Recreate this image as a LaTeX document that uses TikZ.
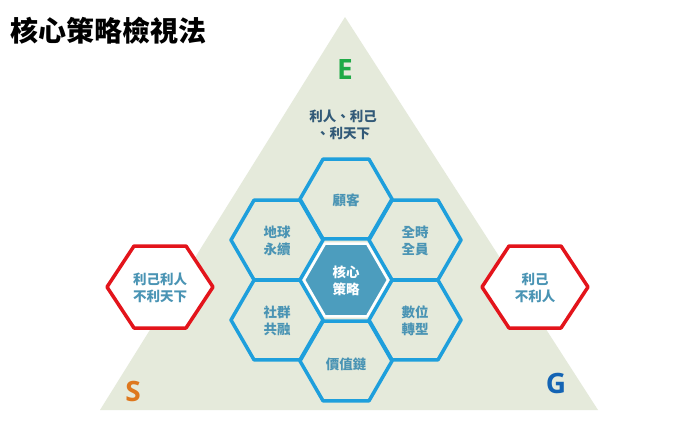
\documentclass[tikz,border=0pt]{standalone}
\usepackage{fontspec}
\newfontfamily\cjk{Noto Sans CJK TC}
\newfontfamily\lat{Open Sans}
\definecolor{bg}{HTML}{E5EADB}
\definecolor{hexb}{HTML}{1E9FDC}
\definecolor{hexc}{HTML}{4C9DBE}
\definecolor{txt}{HTML}{4A94B4}
\definecolor{redh}{HTML}{E3141B}
\begin{document}
\begin{tikzpicture}[x=1pt,y=-1pt,
  hx/.style={draw=hexb,line width=3.5pt,line join=round},
  rh/.style={draw=redh,fill=white,line width=3.5pt,line join=round},
  lbl/.style={font=\cjk\bfseries\fontsize{13.5}{17}\selectfont,text=txt,align=center}]
\useasboundingbox (0,0) rectangle (692,429);
\fill[white] (0,0) rectangle (692,429);
\coordinate (ap) at (345,17);
\coordinate (bl) at (100,410);
\coordinate (br) at (598,410);
\fill[bg] (ap) -- (bl) -- (br) -- cycle;
\node[anchor=west,font=\cjk\bfseries\fontsize{28}{30}\selectfont,inner sep=0pt] (title) at (10,31) {核心策略檢視法};
\node[font=\lat\bfseries\fontsize{28}{30}\selectfont,text={rgb,255:red,30;green,170;blue,70}] (E) at (345,70) {E};
\node[font=\lat\bfseries\fontsize{28}{30}\selectfont,text={rgb,255:red,222;green,120;blue,30}] (S) at (133,391) {S};
\node[font=\lat\bfseries\fontsize{28}{30}\selectfont,text={rgb,255:red,20;green,100;blue,180}] (G) at (556,383) {G};
\node[font=\cjk\bfseries\fontsize{13.5}{17}\selectfont,text={rgb,255:red,50;green,90;blue,120},align=center] (top) at (343,125) {利人、利己\\、利天下};
% honeycomb
\foreach \n/\cx/\cy in {a/346/199, b/415/240, c/415/320, d/346/361, e/277/320, f/277/240}{
  \draw[hx] (\cx+46,\cy) -- (\cx+23,\cy+39.8) -- (\cx-23,\cy+39.8) -- (\cx-46,\cy) -- (\cx-23,\cy-39.8) -- (\cx+23,\cy-39.8) -- cycle;
}
\filldraw[fill=hexc,draw=white,line width=2.5pt,line join=round] (388,280) -- (367,316.4) -- (325,316.4) -- (304,280) -- (325,243.6) -- (367,243.6) -- cycle;
\node[lbl] (n1) at (346,200) {顧客};
\node[lbl] (n2) at (415,241) {全時\\全員};
\node[lbl] (n3) at (415,321) {數位\\轉型};
\node[lbl] (n4) at (346,364) {價值鏈};
\node[lbl] (n5) at (277,321) {社群\\共融};
\node[lbl] (n6) at (277,241) {地球\\永續};
\node[lbl,text=white] (n0) at (346,281) {核心\\策略};
% red hexagons
\foreach \cx in {160,535}{
  \draw[rh] (\cx+53,287) -- (\cx+26,328) -- (\cx-26,328) -- (\cx-53,287) -- (\cx-26,246) -- (\cx+26,246) -- cycle;
}
\node[lbl] (l) at (160,288) {利己利人\\不利天下};
\node[lbl] (r) at (535,288) {利己\\不利人};
\end{tikzpicture}
\end{document}
